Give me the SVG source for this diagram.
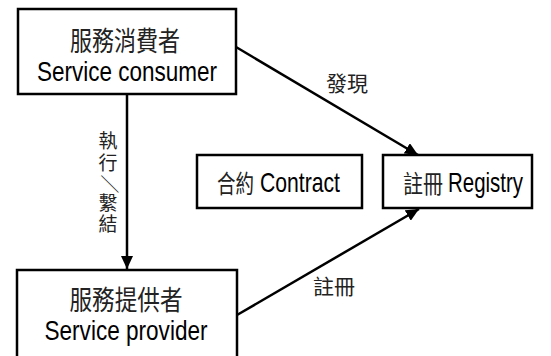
<svg xmlns="http://www.w3.org/2000/svg" width="551" height="356" viewBox="0 0 551 356">
<style>
.box{fill:#fff;stroke:#000;stroke-width:2.5}
.cjk{font-family:"Noto Sans CJK TC","Noto Sans CJK SC",sans-serif;fill:#222}
.lat{font-family:"Liberation Sans","Noto Sans CJK TC",sans-serif;fill:#000}
.conn{stroke:#000;stroke-width:2.5;fill:none}
</style>
<defs>
<marker id="ah" markerUnits="userSpaceOnUse" markerWidth="14" markerHeight="12" refX="13" refY="6" orient="auto">
<path d="M0,0 L13,6 L0,12 Z" fill="#000"/>
</marker>
</defs>
<rect width="551" height="356" fill="#fff"/>
<g id="connectors">
<line class="conn" x1="127" y1="95" x2="127" y2="269" marker-end="url(#ah)"/>
<line class="conn" x1="236" y1="47" x2="418" y2="155" marker-end="url(#ah)"/>
<line class="conn" x1="237" y1="315" x2="419" y2="209" marker-end="url(#ah)"/>
<text class="cjk" x="347" y="91" font-size="21" text-anchor="middle">發現</text>
<text class="cjk" x="334" y="294" font-size="21" text-anchor="middle">註冊</text>
<g id="label-bind" class="cjk" font-size="19" text-anchor="middle">
<text x="108" y="148">執</text>
<text x="108" y="170">行</text>
<text x="108" y="190" transform="rotate(90 108 184)">／</text>
<text x="108" y="210">繫</text>
<text x="108" y="231">結</text>
</g>
</g>
<g id="consumer">
<rect class="box" x="18" y="9" width="218" height="85"/>
<text class="cjk" x="125" y="51" font-size="27" text-anchor="middle" textLength="110" lengthAdjust="spacingAndGlyphs">服務消費者</text>
<text class="lat" x="127" y="81" font-size="28" text-anchor="middle" textLength="180" lengthAdjust="spacingAndGlyphs">Service consumer</text>
</g>
<g id="provider">
<rect class="box" x="17" y="270" width="220" height="95"/>
<text class="cjk" x="126" y="310" font-size="27" text-anchor="middle" textLength="113" lengthAdjust="spacingAndGlyphs">服務提供者</text>
<text class="lat" x="126" y="340" font-size="28" text-anchor="middle" textLength="163" lengthAdjust="spacingAndGlyphs">Service provider</text>
</g>
<g id="contract">
<rect class="box" x="197" y="155" width="165" height="53"/>
<text class="cjk" x="217" y="193" font-size="25" textLength="37" lengthAdjust="spacingAndGlyphs">合約</text>
<text class="lat" x="260" y="192" font-size="28" textLength="80" lengthAdjust="spacingAndGlyphs">Contract</text>
</g>
<g id="registry">
<rect class="box" x="383" y="155" width="149" height="53"/>
<text class="cjk" x="403" y="193" font-size="25" textLength="40" lengthAdjust="spacingAndGlyphs">註冊</text>
<text class="lat" x="448" y="192" font-size="28" textLength="75" lengthAdjust="spacingAndGlyphs">Registry</text>
</g>
</svg>
